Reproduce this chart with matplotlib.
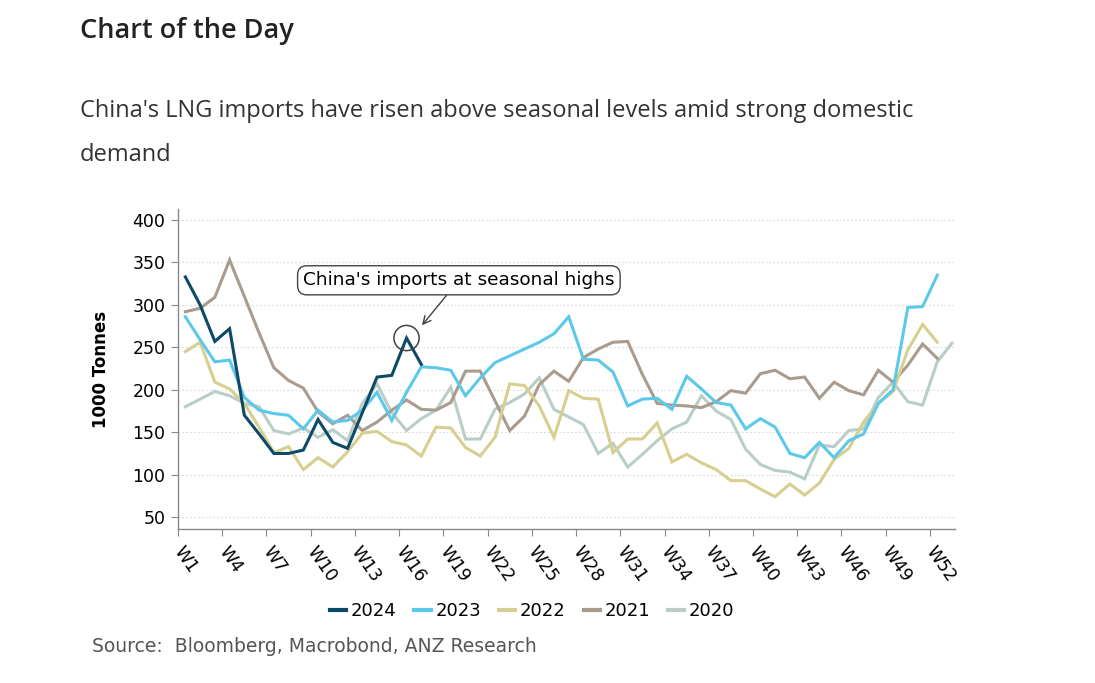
import matplotlib
matplotlib.use("Agg")
import matplotlib.pyplot as plt

# weekly LNG imports, 1000 tonnes
weeks = [f"W{i}" for i in range(1, 54)]
y2024 = [333, 300, 257, 272, 170, 148, 125, 125, 129, 165, 138, 131, 173, 215, 217, 261, 230]
y2023 = [286, 259, 233, 235, 191, 176, 172, 170, 154, 176, 162, 164, 176, 197, 164, 197, 227,
         226, 223, 193, 214, 232, 240, 248, 256, 266, 286, 236, 235, 221, 181, 189, 190, 177,
         216, 201, 185, 182, 154, 166, 156, 125, 120, 138, 120, 140, 148, 184, 200, 297, 298, 335]
y2022 = [245, 256, 209, 201, 184, 156, 126, 133, 106, 120, 109, 127, 149, 151, 139, 135, 122,
         156, 155, 132, 122, 144, 207, 205, 181, 144, 199, 190, 189, 126, 142, 142, 161, 115,
         124, 114, 106, 93, 93, 83, 74, 89, 76, 90, 118, 131, 162, 184, 198, 247, 277, 256]
y2021 = [292, 296, 309, 353, 310, 267, 226, 211, 202, 174, 160, 170, 152, 162, 176, 188, 177,
         176, 185, 222, 222, 187, 152, 169, 206, 222, 210, 238, 248, 256, 257, 218, 184, 182,
         181, 179, 186, 199, 196, 219, 223, 213, 215, 190, 209, 199, 194, 223, 209, 229, 254, 237]
y2020 = [180, 189, 198, 193, 184, 180, 152, 148, 155, 144, 153, 140, 184, 207, 173, 152, 166,
         176, 203, 142, 142, 177, 185, 195, 214, 177, 168, 159, 125, 137, 109, 124, 140, 154,
         162, 193, 175, 165, 130, 112, 105, 103, 95, 135, 133, 152, 154, 191, 209, 186, 182,
         233, 255]

# week of the 2024 peak that gets circled (W16)
PEAK_WEEK = 16

series = [
    ("2020", y2020, "#b9cec7"),
    ("2021", y2021, "#aa9b8f"),
    ("2022", y2022, "#d6cf8f"),
    ("2023", y2023, "#5cc8ea"),
    ("2024", y2024, "#0d4a68"),
]

fig = plt.figure(figsize=(10.95, 6.83), dpi=100)
fig.patch.set_facecolor("white")

fig.text(80 / 1095, 1 - 31 / 683, "Chart of the Day", family="Open Sans",
         weight="semibold", fontsize=19.5, color="#222222", va="center", ha="left")
fig.text(80 / 1095, 1 - 111 / 683,
         "China's LNG imports have risen above seasonal levels amid strong domestic",
         family="Open Sans", fontsize=17, color="#333333", va="center", ha="left")
fig.text(80 / 1095, 1 - 155 / 683, "demand", family="Open Sans", fontsize=17,
         color="#333333", va="center", ha="left")

ax = fig.add_axes([178 / 1095, 1 - 529 / 683, (955 - 178) / 1095, (529 - 209) / 683])

handles = {}
for name, vals, color in series:
    (line,) = ax.plot(range(len(vals)), vals, color=color, linewidth=2.2,
                      solid_joinstyle="miter", label=name)
    handles[name] = line

ax.set_xlim(-0.5, 52.2)
ax.set_ylim(36, 413)
ax.set_yticks(range(50, 401, 50))
ax.set_xticks([i - 0.5 for i in range(0, 52, 3)])
ax.set_xticklabels(weeks[0:52:3], rotation=-55, ha="left", va="center",
                   rotation_mode="anchor", fontsize=12.5)
ax.tick_params(axis="x", length=5, color="#888888", pad=9)
ax.tick_params(axis="y", length=5, color="#888888", labelsize=12.5, pad=4)

ax.grid(axis="y", color="#d8dcdc", linestyle=(0, (1.5, 2)), linewidth=0.8)
ax.set_axisbelow(True)
for side in ("top", "right"):
    ax.spines[side].set_visible(False)
for side in ("left", "bottom"):
    ax.spines[side].set_color("#888888")
    ax.spines[side].set_linewidth(1)

ax.set_ylabel("1000 Tonnes", fontsize=12, weight="bold", labelpad=16)

# highlight the latest peak
peak_idx = PEAK_WEEK - 1
peak_val = y2024[peak_idx]
ax.scatter([peak_idx], [peak_val], s=330, facecolors="none",
           edgecolors="#444444", linewidths=1.1, zorder=6)
ax.annotate("China's imports at seasonal highs",
            xy=(peak_idx + 1.05, peak_val + 15),
            xytext=(18.55, 329), textcoords="data", ha="center", va="center",
            fontsize=13.3,
            bbox=dict(boxstyle="round,pad=0.3,rounding_size=0.5", fc="white",
                      ec="#444444", lw=1),
            arrowprops=dict(arrowstyle="->", color="#444444", lw=1,
                            shrinkA=0, shrinkB=0, mutation_scale=14))

order = ["2024", "2023", "2022", "2021", "2020"]
leg = fig.legend([handles[k] for k in order], order, loc="center",
                 bbox_to_anchor=(532 / 1095, 1 - 611 / 683), ncol=5, frameon=False,
                 fontsize=13, handlelength=0.9, handletextpad=0.25, columnspacing=1.0)
for h in leg.get_lines():
    h.set_linewidth(3)

fig.text(92 / 1095, 1 - 647 / 683, "Source:  Bloomberg, Macrobond, ANZ Research",
         fontsize=13.5, color="#555555", va="center", ha="left")

fig.savefig("out.png", dpi=100)
